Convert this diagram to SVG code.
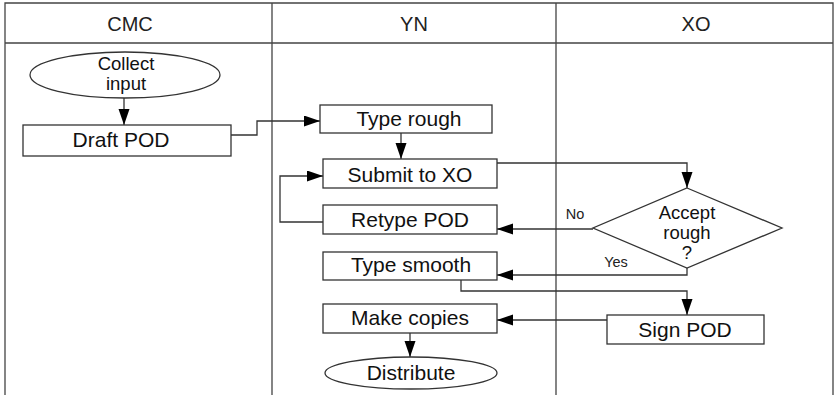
<svg xmlns="http://www.w3.org/2000/svg" width="835" height="395" viewBox="0 0 835 395">
  <style>
    .lane { fill: none; stroke: #444; stroke-width: 1.3; }
    .box { fill: #fff; stroke: #333; stroke-width: 1.3; }
    .label { font-family: "Liberation Sans", Arial, sans-serif; font-size: 21px; fill: #111; text-anchor: middle; }
    .multi { font-family: "Liberation Sans", Arial, sans-serif; font-size: 18.5px; fill: #111; text-anchor: middle; }
    .head { font-family: "Liberation Sans", Arial, sans-serif; font-size: 20px; fill: #222; text-anchor: middle; }
    .small { font-family: "Liberation Sans", Arial, sans-serif; font-size: 14.5px; fill: #222; text-anchor: middle; }
    .conn { fill: none; stroke: #333; stroke-width: 1.3; }
  </style>
  <defs>
    <marker id="arrow" markerUnits="userSpaceOnUse" markerWidth="17" markerHeight="12" refX="16" refY="5.5" orient="auto">
      <path d="M0,0 L16,5.5 L0,11 z" fill="#000"/>
    </marker>
  </defs>
  <rect width="835" height="395" fill="#fff"/>

  <!-- swimlane frame -->
  <g id="lanes">
    <path class="lane" d="M5,395 V3 H833 V395 M5,43 H833 M272,3 V395 M556,3 V395"/>
    <text class="head" x="130" y="31">CMC</text>
    <text class="head" x="414" y="31">YN</text>
    <text class="head" x="696" y="31">XO</text>
  </g>

  <!-- connectors -->
  <g id="connectors">
    <path class="conn" d="M124,98 V125" marker-end="url(#arrow)"/>
    <path class="conn" d="M231,135 H257 V121 H320" marker-end="url(#arrow)"/>
    <path class="conn" d="M401,133 V159" marker-end="url(#arrow)"/>
    <path class="conn" d="M497,163 H687 V188" marker-end="url(#arrow)"/>
    <path class="conn" d="M323,222 H280 V176 H323" marker-end="url(#arrow)"/>
    <path class="conn" d="M593,229 H497" marker-end="url(#arrow)"/>
    <path class="conn" d="M687,268 V275 H497" marker-end="url(#arrow)"/>
    <path class="conn" d="M461,280 V291 H687 V315" marker-end="url(#arrow)"/>
    <path class="conn" d="M607,320 H497" marker-end="url(#arrow)"/>
    <path class="conn" d="M410,333 V357" marker-end="url(#arrow)"/>
    <text class="small" x="575" y="219">No</text>
    <text class="small" x="616" y="267">Yes</text>
  </g>

  <!-- nodes -->
  <g id="collect-input">
    <ellipse class="box" cx="125" cy="75" rx="95" ry="23"/>
    <text class="multi" x="126" y="70">Collect</text>
    <text class="multi" x="126" y="90">input</text>
  </g>
  <g id="draft-pod">
    <rect class="box" x="23" y="125" width="208" height="31"/>
    <text class="label" x="121" y="147">Draft POD</text>
  </g>
  <g id="type-rough">
    <rect class="box" x="320" y="105" width="172" height="28"/>
    <text class="label" x="409" y="126">Type rough</text>
  </g>
  <g id="submit-to-xo">
    <rect class="box" x="323" y="159" width="174" height="29"/>
    <text class="label" x="410" y="182">Submit to XO</text>
  </g>
  <g id="retype-pod">
    <rect class="box" x="323" y="205" width="174" height="29"/>
    <text class="label" x="410" y="227">Retype POD</text>
  </g>
  <g id="type-smooth">
    <rect class="box" x="323" y="252" width="174" height="28"/>
    <text class="label" x="411" y="272">Type smooth</text>
  </g>
  <g id="make-copies">
    <rect class="box" x="323" y="304" width="174" height="29"/>
    <text class="label" x="410" y="325">Make copies</text>
  </g>
  <g id="distribute">
    <ellipse class="box" cx="411" cy="373" rx="86" ry="16"/>
    <text class="label" x="411" y="380">Distribute</text>
  </g>
  <g id="accept-rough">
    <polygon class="box" points="687,188 782,228 687,268 593,228"/>
    <text class="multi" x="687" y="219">Accept</text>
    <text class="multi" x="687" y="239">rough</text>
    <text class="multi" x="687" y="259">?</text>
  </g>
  <g id="sign-pod">
    <rect class="box" x="607" y="315" width="157" height="29"/>
    <text class="label" x="685" y="337">Sign POD</text>
  </g>
</svg>
